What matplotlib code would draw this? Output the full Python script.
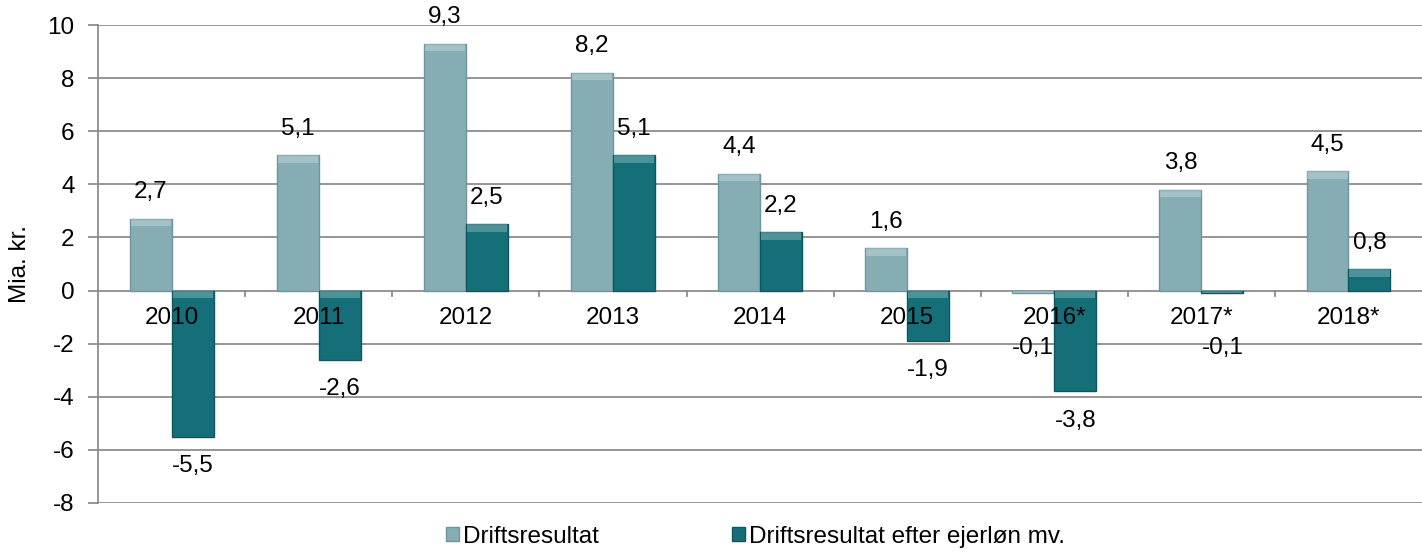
import matplotlib.pyplot as plt
import numpy as np

plt.rcParams['font.family'] = ['Liberation Sans', 'DejaVu Sans']

years = ['2010', '2011', '2012', '2013', '2014', '2015', '2016*', '2017*', '2018*']
drift = [2.7, 5.1, 9.3, 8.2, 4.4, 1.6, -0.1, 3.8, 4.5]
drift_efter = [-5.5, -2.6, 2.5, 5.1, 2.2, -1.9, -3.8, -0.1, 0.8]
yticks = [-8, -6, -4, -2, 0, 2, 4, 6, 8, 10]

c_light = '#86adb4'
c_dark = '#146f79'
fs = 17.5

fig = plt.figure(figsize=(14.22, 5.57), dpi=100)
ax = fig.add_axes([0.069, 0.097, 0.931, 0.858])

x = np.arange(len(years))
w = 0.285
b1 = ax.bar(x - w / 2, drift, w, color=c_light, edgecolor='#6f959c', linewidth=1,
            label='Driftsresultat', zorder=3)
b2 = ax.bar(x + w / 2, drift_efter, w, color=c_dark, edgecolor='#0e5760', linewidth=1,
            label='Driftsresultat efter ejerløn mv.', zorder=3)

# bevel highlight on the upper edge of every bar
for bars in (b1, b2):
    for r in bars:
        top = r.get_y() + r.get_height() if r.get_height() >= 0 else r.get_y()
        h = min(0.28, abs(r.get_height()))
        ax.bar(r.get_x() + r.get_width() / 2, h, r.get_width() * 0.96, bottom=top - h,
               color='white', alpha=0.25, linewidth=0, zorder=4)

def lab(v):
    return f'{v:.1f}'.replace('.', ',')

for xs, vals in ((x - w / 2, drift), (x + w / 2, drift_efter)):
    for xi, v in zip(xs, vals):
        if v >= 0:
            ax.text(xi, v + 1.0, lab(v), ha='center', va='center', fontsize=fs)
        elif v > -0.5:
            ax.text(xi, v - 2.05, lab(v), ha='center', va='center', fontsize=fs)
        else:
            ax.text(xi, v - 1.1, lab(v), ha='center', va='center', fontsize=fs)

for i, y in enumerate(years):
    ax.text(i, -1.04, y, ha='center', va='center', fontsize=fs)

ax.set_xlim(-0.5, len(years) - 0.5)
ax.set_ylim(-8, 10)
ax.set_yticks(yticks)
ax.set_yticklabels([str(t) for t in yticks], fontsize=fs)
ax.yaxis.grid(True, color='#8c8c8c', linewidth=1.3, zorder=0)
ax.tick_params(axis='y', length=7, width=1.3, color='#8c8c8c', pad=10)
ax.set_xticks([])

for s in ['top', 'right', 'bottom']:
    ax.spines[s].set_visible(False)
ax.spines['left'].set_color('#8c8c8c')
ax.spines['left'].set_linewidth(1.3)

# category boundary ticks on the zero line
for b in np.arange(1, len(years)):
    ax.plot([b - 0.5, b - 0.5], [0, -0.22], color='#8c8c8c', linewidth=1.3, zorder=2)

ax.set_ylabel('Mia. kr.', fontsize=fs, labelpad=12)

ax.legend(loc='center left', bbox_to_anchor=(0.263, -0.071), ncol=2, frameon=False,
          fontsize=fs, handlelength=0.53, handleheight=0.53, handletextpad=0.17,
          columnspacing=5.45, borderpad=0, borderaxespad=0)

fig.savefig('out.png', dpi=100)
